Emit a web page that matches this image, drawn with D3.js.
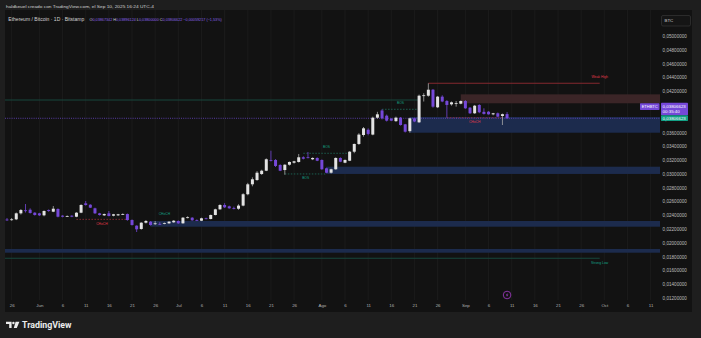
<!DOCTYPE html>
<html>
<head>
<meta charset="utf-8">
<script src="https://cdn.jsdelivr.net/npm/d3@7.9.0/dist/d3.min.js"></script>
<style>
html, body { margin: 0; padding: 0; background: #1e1e1e; }
svg { display: block; font-family: "Liberation Sans", Arial, sans-serif; }
</style>
</head>
<body>
<svg id="chart" width="701" height="338"></svg>
<script>
// daily candles ETH/BTC, first bar May 25 2025, last bar Sep 10 2025
const startDate = new Date(2025, 4, 25);

const opens = [
  .02338, .02332, .02341, .02428, .02472, .02480, .02437, .02428, .02399, .02476,
  .02452, .02491, .02394, .02385, .02394, .02379, .02437, .02573, .02553, .02501,
  .02428, .02399, .02428, .02394, .02399, .02416, .02418, .02331, .02249, .02201,
  .02292, .02307, .02280, .02275, .02280, .02283, .02298, .02317, .02283, .02368,
  .02365, .02330, .02321, .02356, .02346, .02404, .02486, .02549, .02530, .02505,
  .02495, .02540, .02705, .02849, .02911, .02998, .03046, .03202, .03202, .03129,
  .03056, .03133, .03162, .03173, .03241, .03241, .03212, .03231, .03202, .03081,
  .03017, .03067, .03231, .03162, .03191, .03322, .03434, .03564, .03640, .03570,
  .03815, .03920, .03844, .03800, .03765, .03815, .03719, .03620, .03806, .03748,
  .04130, .04134, .04221, .03966, .04120, .04057, .04009, .04025, .04018, .04057,
  .03960, .03879, .04000, .03900, .03902, .03864, .03879, .03840, .03867342
];
const highs = [
  .02360, .02360, .02440, .02490, .02563, .02500, .02445, .02435, .02470, .02485,
  .02534, .02500, .02400, .02398, .02400, .02445, .02560, .02607, .02560, .02510,
  .02435, .02425, .02462, .02420, .02420, .02428, .02425, .02340, .02255, .02300,
  .02330, .02315, .02317, .02300, .02295, .02315, .02330, .02325, .02375, .02385,
  .02372, .02340, .02365, .02365, .02410, .02495, .02560, .02575, .02540, .02525,
  .02560, .02720, .02870, .02950, .03040, .03060, .03225, .03336, .03215, .03140,
  .03140, .03180, .03190, .03289, .03255, .03318, .03240, .03240, .03210, .03090,
  .03075, .03240, .03240, .03210, .03330, .03440, .03590, .03680, .03660, .03830,
  .03900, .03937, .03860, .03810, .03830, .03825, .03725, .03815, .03815, .04150,
  .04170, .04314, .04230, .04130, .04140, .04070, .04050, .04057, .04065, .04070,
  .03970, .04000, .04010, .03951, .03910, .03885, .03890, .03875, .03896124
];
const lows = [
  .02318, .02320, .02330, .02410, .02440, .02425, .02395, .02390, .02385, .02450,
  .02445, .02370, .02370, .02378, .02372, .02372, .02430, .02540, .02505, .02420,
  .02395, .02390, .02385, .02385, .02390, .02405, .02320, .02250, .02157, .02190,
  .02280, .02250, .02259, .02260, .02270, .02275, .02290, .02275, .02278, .02355,
  .02320, .02318, .02315, .02340, .02340, .02398, .02480, .02505, .02495, .02485,
  .02480, .02530, .02690, .02820, .02900, .02985, .03040, .03180, .03100, .03040,
  .02988, .03120, .03150, .03165, .03210, .03225, .03200, .03185, .03060, .03010,
  .03005, .03060, .03170, .03155, .03185, .03300, .03420, .03540, .03560, .03560,
  .03800, .03790, .03760, .03765, .03755, .03700, .03600, .03597, .03750, .03740,
  .04050, .04120, .03960, .03955, .04040, .03815, .03990, .03975, .04010, .03945,
  .03870, .03870, .03880, .03860, .03860, .03850, .03825, .03709, .03800000
];
const closes = [
  .02330, .02341, .02428, .02476, .02462, .02433, .02404, .02399, .02462, .02462,
  .02495, .02379, .02379, .02389, .02379, .02437, .02549, .02549, .02510, .02428,
  .02404, .02418, .02389, .02414, .02414, .02418, .02331, .02259, .02196, .02292,
  .02317, .02259, .02283, .02273, .02288, .02307, .02321, .02283, .02365, .02371,
  .02327, .02327, .02356, .02346, .02404, .02486, .02549, .02515, .02501, .02495,
  .02540, .02705, .02849, .02922, .03017, .03046, .03212, .03191, .03115, .03046,
  .03133, .03173, .03183, .03241, .03220, .03231, .03231, .03191, .03067, .03017,
  .03067, .03231, .03177, .03202, .03322, .03434, .03570, .03661, .03580, .03815,
  .03864, .03806, .03772, .03772, .03815, .03709, .03612, .03806, .03760, .04134,
  .04140, .04221, .03975, .04120, .04050, .04000, .04038, .04027, .04057, .03951,
  .03879, .03989, .03894, .03870, .03864, .03879, .03830, .03865839, .03806622
];

const priceTicks = [0.012, 0.014, 0.016, 0.018, 0.020, 0.022, 0.024, 0.026, 0.028, 0.030,
  0.032, 0.034, 0.036, 0.038, 0.040, 0.042, 0.044, 0.046, 0.048, 0.050];

const tickDates = ["2025-05-26","2025-06-01","2025-06-06","2025-06-11","2025-06-16","2025-06-21",
  "2025-06-26","2025-07-01","2025-07-06","2025-07-11","2025-07-16","2025-07-21","2025-07-26",
  "2025-08-01","2025-08-06","2025-08-11","2025-08-16","2025-08-21","2025-08-26","2025-09-01",
  "2025-09-06","2025-09-11","2025-09-16","2025-09-21","2025-09-26","2025-10-01","2025-10-06","2025-10-11"];
const tickLabels = ["26","Jun","6","11","16","21","26","Jul","6","11","16","21","26",
  "Ago","6","11","16","21","26","Sep","6","11","16","21","26","Oct","6","11"];

// order block zones: top, bottom, first bar index
const zoneTops    = [.01911, .02317, .03104, .03825, .04154];
const zoneBottoms = [.01857, .02234, .02999, .03597, .04024];
const zoneStarts  = [-8, 31, 69, 87, 98];
const zoneKinds   = ["bull", "bull", "bull", "bull", "bear"];

// swing levels (solid)
const swingPrices = [.04072, .01776, .04314];
const swingFrom   = [-8, -8, 91];
const swingTo     = [89, 128, 128];
const swingKinds  = ["bull", "bull", "bear"];
const swingTexts  = ["", "Strong Low", "Weak High"];

// internal structure (dashed)
const structPrices = [.03937, .03815, .02341, .03299, .02999];
const structFrom   = [81, 95, 15, 64, 60];
const structTo     = [89, 107, 26, 74, 69];
const structKinds  = ["bull", "bear", "bear", "bull", "bull"];
const structTexts  = ["BOS", "CHoCH", "CHoCH", "BOS", "BOS"];
const structSide   = ["above", "below", "below", "above", "below"];

const lastPrice = 0.03806623;

const locale = d3.formatLocale({ decimal: ",", thousands: ".", grouping: [3], currency: ["", ""] });
const fmt = locale.format(".8f");
const pct = locale.format(".2f");
const parseDay = d3.timeParse("%Y-%m-%d");

const svg = d3.select("#chart");
const plotL = 5, plotR = 660, plotT = 10, plotB = 300;

const x = d3.scaleTime().domain([startDate, new Date(2025, 9, 11)]).range([7, 650.6]);
const y = d3.scaleLinear().domain([0.012, 0.05]).range([298, 36]);
const barX = i => x(d3.timeDay.offset(startDate, i));

// frame
svg.append("rect").attr("width", 701).attr("height", 338).attr("fill", "#1e1e1e");
svg.append("rect").attr("x", 5).attr("y", 10).attr("width", 687).attr("height", 302).attr("fill", "#121212");

svg.append("defs").append("clipPath").attr("id", "plotclip")
  .append("rect").attr("x", plotL).attr("y", plotT).attr("width", plotR - plotL).attr("height", plotB - plotT);

const plot = svg.append("g").attr("clip-path", "url(#plotclip)");

// vertical grid
plot.selectAll(".vgrid").data(tickDates).join("line")
  .attr("x1", d => x(parseDay(d))).attr("x2", d => x(parseDay(d)))
  .attr("y1", plotT).attr("y2", plotB)
  .attr("stroke", "#1b1b1b").attr("stroke-width", 1);

// zones
plot.selectAll(".zone").data(zoneTops).join("rect")
  .attr("x", (d, i) => barX(zoneStarts[i]))
  .attr("y", d => y(d))
  .attr("width", (d, i) => plotR - barX(zoneStarts[i]))
  .attr("height", (d, i) => y(zoneBottoms[i]) - y(d))
  .attr("fill", (d, i) => zoneKinds[i] === "bull" ? "#1c2b4d" : "#3b2527");

// swing lines
plot.selectAll(".swing").data(swingPrices).join("line")
  .attr("x1", (d, i) => barX(swingFrom[i])).attr("x2", (d, i) => barX(swingTo[i]))
  .attr("y1", d => y(d)).attr("y2", d => y(d))
  .attr("stroke", (d, i) => swingKinds[i] === "bull" ? "#17473d" : "#85282f")
  .attr("stroke-width", 1.1);

plot.selectAll(".swingtxt").data(swingPrices).join("text")
  .attr("x", (d, i) => barX(swingTo[i]))
  .attr("y", (d, i) => swingKinds[i] === "bull" ? y(d) + 5 : y(d) - 6.5)
  .attr("text-anchor", "middle").attr("dominant-baseline", "middle")
  .attr("font-size", 3.4)
  .attr("fill", (d, i) => swingKinds[i] === "bull" ? "#14a085" : "#e0394a")
  .text((d, i) => swingTexts[i]);

// internal structure
plot.selectAll(".struct").data(structPrices).join("line")
  .attr("x1", (d, i) => barX(structFrom[i])).attr("x2", (d, i) => barX(structTo[i]))
  .attr("y1", d => y(d)).attr("y2", d => y(d))
  .attr("stroke", (d, i) => structKinds[i] === "bull" ? "#1d6656" : "#8f2c36")
  .attr("stroke-width", 0.9).attr("stroke-dasharray", "1.5,1.5");

plot.selectAll(".structtxt").data(structPrices).join("text")
  .attr("x", (d, i) => (barX(structFrom[i]) + barX(structTo[i])) / 2)
  .attr("y", (d, i) => structSide[i] === "above" ? y(d) - 6 : y(d) + 4.5)
  .attr("text-anchor", "middle").attr("dominant-baseline", "middle")
  .attr("font-size", 3.3)
  .attr("fill", (d, i) => structKinds[i] === "bull" ? "#14a085" : "#e0394a")
  .text((d, i) => structTexts[i]);

plot.append("text")
  .attr("x", barX(34)).attr("y", y(.02416))
  .attr("text-anchor", "middle").attr("dominant-baseline", "middle")
  .attr("font-size", 3.3).attr("fill", "#14a085").text("CHoCH");

// last price line
plot.append("line")
  .attr("x1", plotL).attr("x2", plotR)
  .attr("y1", y(lastPrice)).attr("y2", y(lastPrice))
  .attr("stroke", "#6a48c8").attr("stroke-width", 0.8).attr("stroke-dasharray", "1,1.2");

// candles
const idx = d3.range(opens.length);
const upCol = "#e3e3e3", downCol = "#7548d8";
plot.selectAll(".wick").data(idx).join("line")
  .attr("x1", i => barX(i)).attr("x2", i => barX(i))
  .attr("y1", i => y(highs[i])).attr("y2", i => y(lows[i]))
  .attr("stroke", i => closes[i] >= opens[i] ? "#a9a9a9" : downCol)
  .attr("stroke-width", 0.8);

plot.selectAll(".body").data(idx).join("rect")
  .attr("x", i => barX(i) - 1.5)
  .attr("width", 3)
  .attr("y", i => y(Math.max(opens[i], closes[i])))
  .attr("height", i => Math.max(0.8, Math.abs(y(opens[i]) - y(closes[i]))))
  .attr("fill", i => closes[i] >= opens[i] ? upCol : downCol);

// price axis
const yAxis = svg.append("g").attr("transform", "translate(662.6,0)")
  .call(d3.axisRight(y).tickValues(priceTicks).tickFormat(fmt).tickSize(0).tickPadding(0));
yAxis.select(".domain").remove();
yAxis.selectAll("text").attr("font-size", 4.6).attr("fill", "#bdbdbd")
  .attr("font-family", "Liberation Sans, Arial, sans-serif");

// time axis
const xAxis = svg.append("g").attr("transform", "translate(0,303)")
  .call(d3.axisBottom(x).tickValues(tickDates.map(parseDay)).tickFormat((d, i) => tickLabels[i]).tickSize(0).tickPadding(1));
xAxis.select(".domain").remove();
xAxis.selectAll("text").attr("font-size", 4.4).attr("fill", "#b4b4b4")
  .attr("font-family", "Liberation Sans, Arial, sans-serif");

// currency box
svg.append("rect").attr("x", 661.5).attr("y", 15.5).attr("width", 29).attr("height", 10.5)
  .attr("rx", 1.5).attr("fill", "#151515").attr("stroke", "#363636").attr("stroke-width", 0.7);
svg.append("text").attr("x", 664.5).attr("y", 22.3).attr("font-size", 4.4).attr("fill", "#d0d0d0").text("BTC");

// last price labels
const yp = y(lastPrice);
svg.append("rect").attr("x", 661).attr("y", yp - 15.6).attr("width", 27).attr("height", 12.6)
  .attr("rx", 0.8).attr("fill", "#7548d8");
svg.append("text").attr("x", 662.6).attr("y", yp - 10.6).attr("font-size", 4.4).attr("fill", "#ffffff").text(fmt(lastPrice));
svg.append("text").attr("x", 662.6).attr("y", yp - 5.2).attr("font-size", 4.4).attr("fill", "#ffffff").text("00:35:40");
svg.append("rect").attr("x", 661).attr("y", yp - 3).attr("width", 27).attr("height", 5.6)
  .attr("rx", 0.6).attr("fill", "#12a085");
svg.append("text").attr("x", 662.6).attr("y", yp + 1.5).attr("font-size", 4.4).attr("fill", "#ffffff").text(fmt(lastPrice));
svg.append("rect").attr("x", 640).attr("y", yp - 15).attr("width", 19.5).attr("height", 6.6)
  .attr("rx", 0.6).attr("fill", "#7548d8");
svg.append("text").attr("x", 649.7).attr("y", yp - 10.2).attr("text-anchor", "middle")
  .attr("font-size", 4).attr("fill", "#ffffff").text("ETHBTC");

// event marker
const ev = svg.append("g").attr("transform", `translate(${barX(108)},295)`);
ev.append("circle").attr("r", 3.8).attr("fill", "#121212").attr("stroke", "#a63cc8").attr("stroke-width", 0.8);
ev.append("path").attr("d", "M0.6,-2.4 L-1.2,0.4 L0.2,0.4 L-0.6,2.4 L1.3,-0.6 L-0.1,-0.6 Z").attr("fill", "#a63cc8");

// header
svg.append("text").attr("x", 6).attr("y", 8).attr("font-size", 4.4).attr("fill", "#d2d2d2")
  .attr("textLength", 148).attr("lengthAdjust", "spacingAndGlyphs")
  .text("haldkeuel creado con TradingView.com, el Sep 10, 2025 16:24 UTC-4");

const grey = "#d2d2d2", violet = "#8a63e8";
svg.append("text").attr("x", 8.3).attr("y", 21).attr("font-size", 4.6).attr("fill", grey)
  .attr("textLength", 76).attr("lengthAdjust", "spacingAndGlyphs")
  .text("Ethereum / Bitcoin · 1D · Bitstamp");

// OHLC legend, one text element with coloured spans
const ohlcKeys = ["O", "H", "L", "C"];
const ohlcVals = [opens[108], highs[108], lows[108], closes[108]];
const chg = closes[108] - closes[107];
const parts = [];
ohlcKeys.forEach((k, i) => {
  parts.push([(i ? "\u00a0" : "") + k, grey]);
  parts.push([fmt(ohlcVals[i]), violet]);
});
parts.push(["\u00a0−" + fmt(Math.abs(chg)) + " (−" + pct(Math.abs(chg / closes[107]) * 100) + "%)", violet]);

const hdr = svg.append("text").attr("x", 89.5).attr("y", 21).attr("font-size", 3.75);
hdr.selectAll("tspan").data(parts).join("tspan")
  .attr("fill", d => d[1]).text(d => d[0]);

// TradingView logo
const logo = svg.append("g").attr("fill", "#ececec");
logo.append("path").attr("d", "M6,321.8 H11.6 V328 H9.2 V324 H6 Z");
logo.append("circle").attr("cx", 13.4).attr("cy", 323).attr("r", 1.2);
logo.append("path").attr("d", "M15.6,321.8 H19.4 L16.8,328 H13.8 Z");
svg.append("text").attr("x", 22).attr("y", 328.3).attr("font-size", 8.6).attr("font-weight", "bold")
  .attr("font-family", "Roboto, Arial, sans-serif").attr("fill", "#ececec")
  .attr("textLength", 49.5).attr("lengthAdjust", "spacingAndGlyphs").text("TradingView");
</script>
</body>
</html>
